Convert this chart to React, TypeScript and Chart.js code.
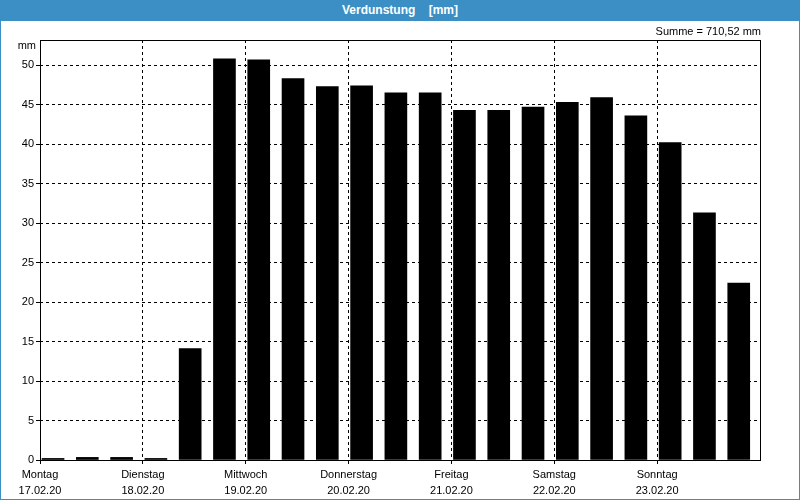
import React, { useEffect, useRef } from "react";
import { Chart, registerables } from "chart.js";

Chart.register(...registerables);

const TITLE = "Verdunstung    [mm]";
const SUM_LABEL = "Summe = 710,52 mm";
const Y_UNIT = "mm";
const DAYS = ["Montag", "Dienstag", "Mittwoch", "Donnerstag", "Freitag", "Samstag", "Sonntag"];
const DATES = ["17.02.20", "18.02.20", "19.02.20", "20.02.20", "21.02.20", "22.02.20", "23.02.20"];
const PERIODS_PER_DAY = 3;
// evaporation per 8-hour period [mm]
const VALUES = [
  0.2, 0.33, 0.33,
  0.2, 14.1, 50.8,
  50.7, 48.3, 47.3,
  47.4, 46.5, 46.5,
  44.3, 44.3, 44.7,
  45.3, 45.9, 43.6,
  40.2, 31.3, 22.4,
];
const Y_MAX = 53.2;
const Y_STEP = 5;
const BAR_SHIFT = 0.38; // bar position within its period slot

const FONT = "'Liberation Sans', Arial, sans-serif";
const BLUE = "#3c8fc4";

export default function App() {
  const ref = useRef<HTMLCanvasElement | null>(null);

  useEffect(() => {
    document.body.style.margin = "0";
    const canvas = ref.current;
    if (!canvas) return;
    const n = VALUES.length;

    const framePlugin = {
      id: "frame",
      afterDraw(chart: any) {
        const { ctx, chartArea } = chart;
        const l = Math.round(chartArea.left) + 0.5;
        const t = Math.round(chartArea.top) + 0.5;
        const r = Math.round(chartArea.right) + 0.5;
        const b = Math.round(chartArea.bottom) + 0.5;
        ctx.save();
        ctx.strokeStyle = "#000";
        ctx.lineWidth = 1;
        ctx.setLineDash([]);
        ctx.strokeRect(l, t, r - l, b - t);
        ctx.fillStyle = "#000";
        ctx.font = `11px ${FONT}`;
        ctx.textAlign = "right";
        ctx.textBaseline = "middle";
        ctx.fillText(Y_UNIT, chartArea.left - 4, chartArea.top + 6);
        ctx.fillText(SUM_LABEL, chartArea.right + 1, chartArea.top - 8);
        ctx.restore();
      },
    };

    const chart = new Chart(canvas, {
      type: "bar",
      data: {
        datasets: [
          {
            data: VALUES.map((v, i) => ({ x: i + BAR_SHIFT, y: v })),
            backgroundColor: "#000",
            borderWidth: 0,
            barThickness: 22,
          },
        ],
      },
      options: {
        responsive: false,
        animation: false,
        events: [],
        layout: { padding: { left: 0, right: 40, top: 40, bottom: 0 } },
        plugins: {
          legend: { display: false },
          tooltip: { enabled: false },
          title: { display: false },
        },
        scales: {
          x: {
            type: "linear",
            min: 0,
            max: n,
            offset: false,
            afterFit: (s: any) => {
              s.height = 40;
            },
            ticks: {
              stepSize: PERIODS_PER_DAY,
              autoSkip: false,
              maxRotation: 0,
              minRotation: 0,
              padding: 3,
              color: "#000",
              font: { family: FONT, size: 11, lineHeight: 1.45 },
              callback: (v: any) => {
                const d = Math.round(Number(v) / PERIODS_PER_DAY);
                if (Number(v) % PERIODS_PER_DAY !== 0 || d >= DAYS.length) return "";
                return [DAYS[d], DATES[d]];
              },
            },
            grid: {
              offset: false,
              color: (c: any) =>
                c.tick && (c.tick.value === 0 || c.tick.value === n) ? "rgba(0,0,0,0)" : "#000",
              lineWidth: 1,
              drawTicks: true,
              tickLength: 4,
              tickColor: (c: any) => (c.tick && c.tick.value === n ? "rgba(0,0,0,0)" : "#000"),
            },
            border: { display: false, dash: [3, 3] },
          },
          y: {
            min: 0,
            max: Y_MAX,
            afterFit: (s: any) => {
              s.width = 40;
            },
            afterBuildTicks: (s: any) => {
              s.ticks = s.ticks.filter((t: any) => Math.abs(t.value % Y_STEP) < 1e-6);
            },
            ticks: {
              stepSize: Y_STEP,
              padding: 2,
              color: "#000",
              font: { family: FONT, size: 11 },
            },
            grid: {
              color: (c: any) => (c.tick && c.tick.value === 0 ? "rgba(0,0,0,0)" : "#000"),
              lineWidth: 1,
              drawTicks: true,
              tickLength: 4,
              tickColor: "#000",
            },
            border: { display: false, dash: [3, 3] },
          },
        },
      },
      plugins: [framePlugin],
    } as any);

    return () => chart.destroy();
  }, []);

  return (
    <div style={{ position: "relative", width: 800, height: 500, background: "#fff", overflow: "hidden" }}>
      <canvas ref={ref} width={800} height={500} style={{ position: "absolute", left: 0, top: 0 }} />
      <div
        style={{
          position: "absolute",
          left: 0,
          top: 0,
          width: 800,
          height: 21,
          background: BLUE,
          color: "#fff",
          fontFamily: FONT,
          fontWeight: "bold",
          fontSize: 12,
          lineHeight: "21px",
          textAlign: "center",
          whiteSpace: "pre",
        }}
      >
        {TITLE}
      </div>
      <div
        style={{
          position: "absolute",
          inset: 0,
          border: `1px solid ${BLUE}`,
          boxSizing: "border-box",
          pointerEvents: "none",
        }}
      />
    </div>
  );
}
